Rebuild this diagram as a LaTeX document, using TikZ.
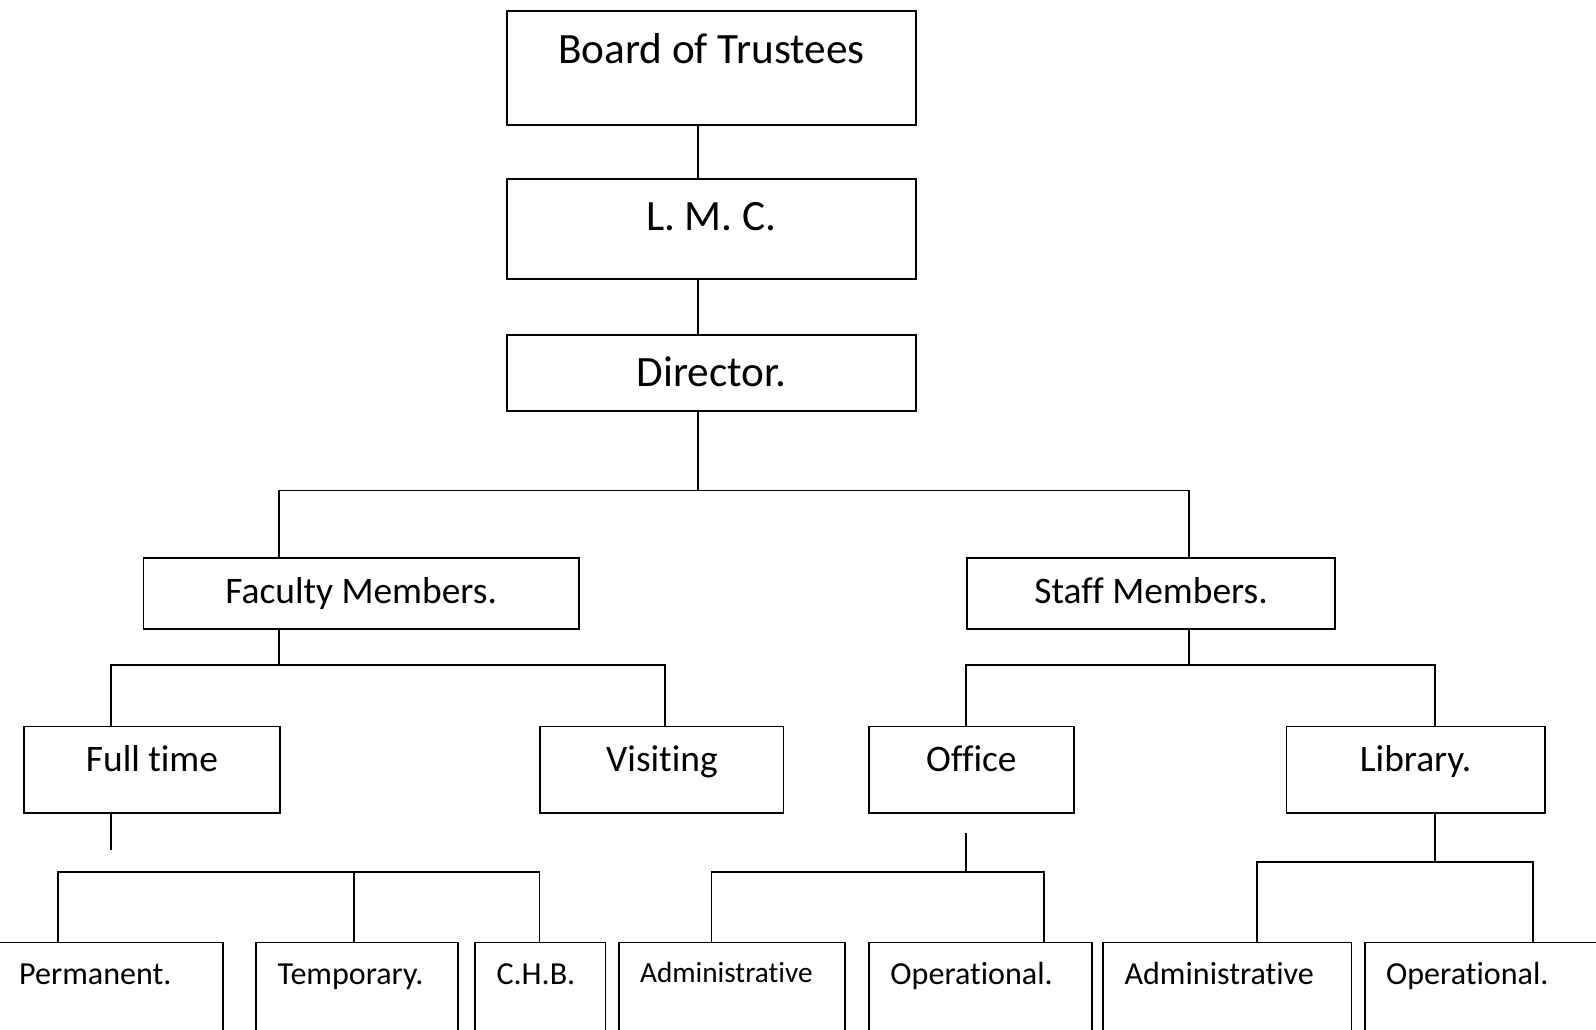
\documentclass[tikz,border=0pt]{standalone}
\usepackage{fontspec}
\setmainfont{Carlito}[Ligatures=NoCommon]

\begin{document}
\begin{tikzpicture}[x=1pt,y=1pt,yscale=-1,
  orgbox/.style={draw, line width=1.7pt, inner sep=0pt, anchor=north west},
  bigtext/.style={font=\fontsize{42.5}{51}\selectfont},
  midtext/.style={font=\fontsize{36.8}{44}\selectfont},
  leaf/.style={orgbox, inner xsep=21pt, inner ysep=0pt, align=left, text width=#1,
    text height=41pt, text depth=74pt, font=\fontsize{31.5}{38}\selectfont},
  link/.style={line width=1.7pt}]
\useasboundingbox (0,0) rectangle (1568,1011);
\clip (0,0) rectangle (1568,1011);

%Top boxes
\node (board) [orgbox, bigtext, minimum width=402pt, text height=51.5pt, text depth=60.5pt] at (497,10) {Board of Trustees};
\node (lmc) [orgbox, bigtext, minimum width=402pt, text height=50.5pt, text depth=47.5pt] at (497,175) {L. M. C.};
\node (director) [orgbox, bigtext, minimum width=402pt, text height=50.5pt, text depth=24.5pt] at (497,328) {Director.};

%Second level
\node (faculty) [orgbox, midtext, minimum width=428pt, text height=45.5pt, text depth=24.5pt] at (140,547) {Faculty Members.};
\node (staff) [orgbox, midtext, minimum width=362pt, text height=45.5pt, text depth=24.5pt] at (949,547) {Staff Members.};

%Third level
\node (fulltime) [orgbox, midtext, minimum width=251pt, text height=44.5pt, text depth=40.5pt] at (23,713) {Full time};
\node (visiting) [orgbox, midtext, minimum width=239pt, text height=44.5pt, text depth=40.5pt] at (530,713) {Visiting};
\node (office) [orgbox, midtext, minimum width=201pt, text height=44.5pt, text depth=40.5pt] at (853,713) {Office};
\node (library) [orgbox, midtext, minimum width=254pt, text height=44.5pt, text depth=40.5pt] at (1263,713) {Library.};

%Bottom level
\node (permanent) [leaf=179pt] at (-3,925) {Permanent.};
\node (temporary) [leaf=156pt] at (251,925) {Temporary.};
\node (chb) [leaf=86pt] at (466,925) {C.H.B.};
\node (offadmin) [leaf=180pt, font=\fontsize{28.7}{34}\selectfont, text height=39pt, text depth=76pt] at (607,925) {Administrative};
\node (offoper) [leaf=177pt] at (853,925) {Operational.};
\node (libadmin) [leaf=202pt] at (1083,925) {Administrative};
\node (liboper) [leaf=208pt] at (1340,925) {Operational.};

%Bus points
\coordinate (trunk) at (686,482);
\coordinate (facdrop) at (274,482);
\coordinate (staffdrop) at (1168,482);
\coordinate (facbus) at (274,653);
\coordinate (ftdrop) at (109,653);
\coordinate (visdrop) at (653,653);
\coordinate (staffbus) at (1168,653);
\coordinate (offdrop) at (949,653);
\coordinate (libdrop) at (1410,653);
\coordinate (ftstub) at (109,835);
\coordinate (permdrop) at (57,857);
\coordinate (tempdrop) at (348,857);
\coordinate (chbdrop) at (530,857);
\coordinate (offstub) at (949,818);
\coordinate (offbus) at (949,857);
\coordinate (oadrop) at (699,857);
\coordinate (oodrop) at (1026,857);
\coordinate (libbus) at (1410,847);
\coordinate (ladrop) at (1235,847);
\coordinate (lodrop) at (1506,847);

%Connectors
\draw [link] (trunk |- board.south) -- (trunk |- lmc.north);
\draw [link] (trunk |- lmc.south) -- (trunk |- director.north);
\draw [link] (trunk |- director.south) -- (trunk);
\draw [link] (facdrop |- faculty.north) -- (facdrop) -- (staffdrop) -- (staffdrop |- staff.north);

\draw [link] (facbus |- faculty.south) -- (facbus);
\draw [link] (ftdrop |- fulltime.north) -- (ftdrop) -- (visdrop) -- (visdrop |- visiting.north);
\draw [link] (staffbus |- staff.south) -- (staffbus);
\draw [link] (offdrop |- office.north) -- (offdrop) -- (libdrop) -- (libdrop |- library.north);

\draw [link] (ftstub |- fulltime.south) -- (ftstub);
\draw [link] (permdrop |- permanent.north) -- (permdrop) -- (chbdrop) -- (chbdrop |- chb.north);
\draw [link] (tempdrop) -- (tempdrop |- temporary.north);

\draw [link] (offstub) -- (offbus);
\draw [link] (oadrop |- offadmin.north) -- (oadrop) -- (oodrop) -- (oodrop |- offoper.north);

\draw [link] (libbus |- library.south) -- (libbus);
\draw [link] (ladrop |- libadmin.north) -- (ladrop) -- (lodrop) -- (lodrop |- liboper.north);

\end{tikzpicture}
\end{document}
